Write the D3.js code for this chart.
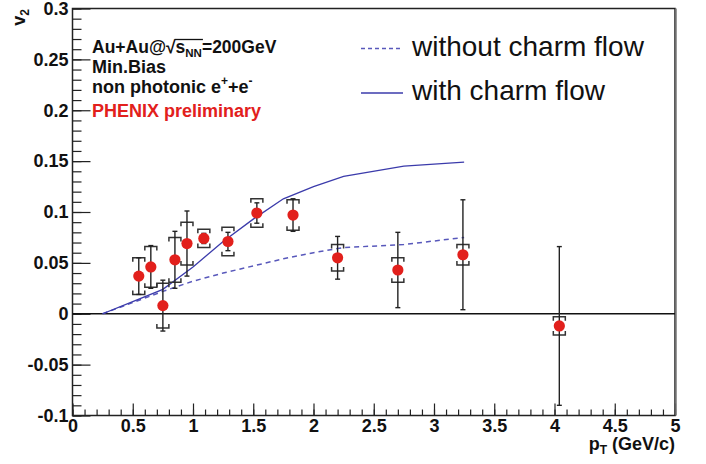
<!DOCTYPE html>
<html>
<head>
<meta charset="utf-8">
<script src="https://cdn.jsdelivr.net/npm/d3@7"></script>
<style>
  body { margin: 0; background: #fff; }
  svg { display: block; font-family: "Liberation Sans", Arial, Helvetica, sans-serif; }
</style>
</head>
<body>
<div id="chart"></div>
<script>
// measured points: pT, v2, stat error, systematic error
const ptValues   = [0.55, 0.65, 0.75, 0.85, 0.95, 1.09, 1.29, 1.53, 1.83, 2.20, 2.70, 3.24, 4.04];
const v2Values   = [0.037, 0.046, 0.008, 0.053, 0.069, 0.074, 0.071, 0.099, 0.097, 0.055, 0.043, 0.058, -0.012];
const statErrors = [0.018, 0.021, 0.025, 0.028, 0.032, 0.005, 0.009, 0.010, 0.016, 0.021, 0.037, 0.054, 0.078];
const sysErrors  = [0.018, 0.020, 0.022, 0.022, 0.021, 0.009, 0.014, 0.014, 0.015, 0.013, 0.012, 0.010, 0.009];

// model curves
const curvePt       = [0.25, 0.5, 0.75, 1.0, 1.25, 1.5, 1.75, 2.0, 2.25, 2.75, 3.25];
const withoutCharm  = [0, 0.011, 0.022, 0.032, 0.040, 0.047, 0.054, 0.060, 0.065, 0.068, 0.075];
const withCharm     = [0, 0.012, 0.024, 0.046, 0.071, 0.093, 0.113, 0.125, 0.135, 0.145, 0.149];

const xTicks = [0, 0.5, 1, 1.5, 2, 2.5, 3, 3.5, 4, 4.5, 5];
const yTicks = [-0.1, -0.05, 0, 0.05, 0.1, 0.15, 0.2, 0.25, 0.3];

const legendLabels = ['without charm flow', 'with charm flow'];
const infoLines = ['Min.Bias', 'non photonic e'];

const W = 706, H = 464;
const margin = { top: 8.5, right: 31, bottom: 48.5, left: 72.5 };
const curveColor = '#3b3bab';
const red = '#e2201c';

// plain hyphen like ROOT, not unicode minus
const fmt = d => String(+d.toFixed(2));

const svg = d3.select('#chart').append('svg')
    .attr('width', W)
    .attr('height', H);

const x = d3.scaleLinear().domain([0, 5]).range([margin.left, W - margin.right]);
const y = d3.scaleLinear().domain([-0.1, 0.3]).range([H - margin.bottom, margin.top]);

// axes (ROOT style: ticks inside, minor ticks)
const xMinor = d3.range(0, 5.0001, 0.1);
const yMinor = d3.range(-0.1, 0.3001, 0.01);

svg.append('g')
    .attr('transform', `translate(0,${y(-0.1)})`)
    .call(d3.axisBottom(x).tickValues(xMinor).tickSize(-6).tickFormat(''))
    .call(g => g.select('.domain').remove());
svg.append('g')
    .attr('transform', `translate(0,${y(-0.1)})`)
    .call(d3.axisBottom(x).tickValues(xTicks).tickSize(-12).tickPadding(4).tickFormat(fmt))
    .call(g => g.select('.domain').remove())
    .call(g => g.selectAll('text').attr('font-size', 18).attr('font-weight', 'bold')
        .attr('font-family', '"Liberation Sans", Arial, sans-serif').attr('fill', '#111'));

svg.append('g')
    .attr('transform', `translate(${x(0)},0)`)
    .call(d3.axisLeft(y).tickValues(yMinor).tickSize(-9).tickFormat(''))
    .call(g => g.select('.domain').remove());
svg.append('g')
    .attr('transform', `translate(${x(0)},0)`)
    .call(d3.axisLeft(y).tickValues(yTicks).tickSize(-18).tickPadding(4).tickFormat(fmt))
    .call(g => g.select('.domain').remove())
    .call(g => g.selectAll('text').attr('font-size', 18).attr('font-weight', 'bold')
        .attr('font-family', '"Liberation Sans", Arial, sans-serif').attr('fill', '#111'));

svg.selectAll('.tick line').attr('stroke', '#222').attr('stroke-width', 1.2);

// frame
svg.append('rect')
    .attr('x', x(0)).attr('y', y(0.3))
    .attr('width', x(5) - x(0)).attr('height', y(-0.1) - y(0.3))
    .attr('fill', 'none').attr('stroke', '#222').attr('stroke-width', 1.5);
svg.append('line')
    .attr('x1', x(5) + 1).attr('x2', x(5) + 1)
    .attr('y1', y(0.3)).attr('y2', y(-0.1))
    .attr('stroke', '#777').attr('stroke-width', 1.5);

// zero line
svg.append('line')
    .attr('x1', x(0)).attr('x2', x(5))
    .attr('y1', y(0)).attr('y2', y(0))
    .attr('stroke', '#111').attr('stroke-width', 1.5);

// curves
const line = d3.line().x(d => x(d[0])).y(d => y(d[1]));
svg.append('path')
    .datum(curvePt.map((p, i) => [p, withoutCharm[i]]))
    .attr('d', line)
    .attr('fill', 'none').attr('stroke', '#5858bb').attr('stroke-width', 1.5)
    .attr('stroke-dasharray', '5,4');
svg.append('path')
    .datum(curvePt.map((p, i) => [p, withCharm[i]]))
    .attr('d', line)
    .attr('fill', 'none').attr('stroke', curveColor).attr('stroke-width', 1.3);

const points = ptValues.map((p, i) => ({ pt: p, v2: v2Values[i], stat: statErrors[i], sys: sysErrors[i] }));

// systematic brackets
const bw = 6, bt = 4;
const sysG = svg.append('g').attr('fill', 'none').attr('stroke', '#333').attr('stroke-width', 1.5);
points.forEach(d => {
    const cx = x(d.pt), top = y(d.v2 + d.sys), bot = y(d.v2 - d.sys);
    sysG.append('path').attr('d',
        `M${cx - bw},${top + bt}V${top}H${cx + bw}V${top + bt}` +
        `M${cx - bw},${bot - bt}V${bot}H${cx + bw}V${bot - bt}`);
});

// stat error bars
const statG = svg.append('g').attr('stroke', '#222').attr('stroke-width', 1.4);
points.forEach(d => {
    const cx = x(d.pt), top = y(d.v2 + d.stat), bot = y(d.v2 - d.stat);
    statG.append('line').attr('x1', cx).attr('x2', cx).attr('y1', top).attr('y2', bot);
    statG.append('line').attr('x1', cx - 2.5).attr('x2', cx + 2.5).attr('y1', top).attr('y2', top);
    statG.append('line').attr('x1', cx - 2.5).attr('x2', cx + 2.5).attr('y1', bot).attr('y2', bot);
});

// markers
svg.append('g').selectAll('circle')
    .data(points)
    .join('circle')
    .attr('cx', d => x(d.pt))
    .attr('cy', d => y(d.v2))
    .attr('r', 5.6)
    .attr('fill', red);

// legend
const legend = svg.append('g').attr('font-size', 28).attr('fill', '#111');
legendLabels.forEach((label, i) => {
    const ly = 48.5 + i * 44.5;
    legend.append('line')
        .attr('x1', 361).attr('x2', 403).attr('y1', ly).attr('y2', ly)
        .attr('stroke', i === 0 ? '#5858bb' : curveColor)
        .attr('stroke-width', 1.3)
        .attr('stroke-dasharray', i === 0 ? '4,3' : null);
    legend.append('text')
        .attr('x', 412).attr('y', ly + 7)
        .text(label);
});

// info text block
const info = svg.append('g').attr('font-size', 18).attr('font-weight', 'bold').attr('fill', '#111');
const t1 = info.append('text').attr('x', 92).attr('y', 53).attr('font-size', 17.5);
t1.append('tspan').text('Au+Au@');
t1.append('tspan').text('\u221A');
t1.append('tspan').text('s');
t1.append('tspan').attr('font-size', 11.5).attr('dy', 4).text('NN');
t1.append('tspan').attr('dy', -4).text('=200GeV');
const node = t1.node();
const ox1 = node.getEndPositionOfChar(6).x;
const ox2 = node.getEndPositionOfChar(9).x;
info.append('line')
    .attr('x1', ox1 - 1).attr('x2', ox2 + 1)
    .attr('y1', 39.5).attr('y2', 39.5)
    .attr('stroke', '#111').attr('stroke-width', 1.3);

info.append('text').attr('x', 92).attr('y', 73).text(infoLines[0]);
const t3 = info.append('text').attr('x', 92).attr('y', 93);
t3.append('tspan').text(infoLines[1]);
t3.append('tspan').attr('font-size', 12).attr('dy', -8).text('+');
t3.append('tspan').attr('dy', 8).text('+e');
t3.append('tspan').attr('font-size', 12).attr('dy', -8).text('-');

info.append('text').attr('x', 92).attr('y', 117).attr('fill', red).text('PHENIX preliminary');

// axis titles
const yt = svg.append('text')
    .attr('transform', `translate(25,9) rotate(-90)`)
    .attr('text-anchor', 'end')
    .attr('font-size', 18).attr('font-weight', 'bold').attr('fill', '#111');
yt.append('tspan').text('v');
yt.append('tspan').attr('font-size', 12).attr('dy', 4).text('2');

const xt = svg.append('text')
    .attr('x', x(5)).attr('y', 450)
    .attr('text-anchor', 'end')
    .attr('font-size', 18).attr('font-weight', 'bold').attr('fill', '#111');
xt.append('tspan').text('p');
xt.append('tspan').attr('font-size', 12).attr('dy', 4).text('T');
xt.append('tspan').attr('dy', -4).text(' (GeV/c)');
</script>
</body>
</html>
